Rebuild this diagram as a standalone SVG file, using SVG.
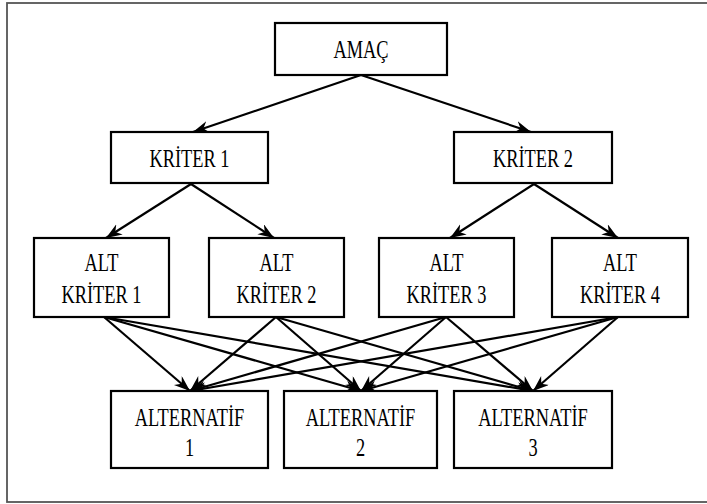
<svg xmlns="http://www.w3.org/2000/svg" width="707" height="504" viewBox="0 0 707 504">
<style>
.box{fill:#fff;stroke:#000;stroke-width:2.2}
.c line{stroke:#000;stroke-width:2.2;marker-end:url(#ah)}
</style>
<defs>
<marker id="ah" markerUnits="userSpaceOnUse" markerWidth="18" markerHeight="14" refX="16" refY="6" orient="auto">
<path d="M0,0 L16,6 L0,12 L5,6 Z" fill="#000"/>
</marker>
</defs>
<rect x="0" y="0" width="707" height="504" fill="#fff"/>
<rect x="7" y="3" width="710" height="499" fill="none" stroke="#555" stroke-width="1.8"/>
<g class="c" id="connectors">
<line x1="361" y1="75" x2="193" y2="132"/>
<line x1="361" y1="75" x2="531" y2="132"/>
<line x1="191" y1="184" x2="106" y2="238"/>
<line x1="191" y1="184" x2="274" y2="238"/>
<line x1="534" y1="184" x2="450" y2="238"/>
<line x1="534" y1="184" x2="618" y2="238"/>
<line x1="104" y1="317" x2="190" y2="391"/>
<line x1="104" y1="317" x2="361" y2="391"/>
<line x1="104" y1="317" x2="533" y2="391"/>
<line x1="276" y1="317" x2="190" y2="391"/>
<line x1="276" y1="317" x2="361" y2="391"/>
<line x1="276" y1="317" x2="533" y2="391"/>
<line x1="446" y1="317" x2="190" y2="391"/>
<line x1="446" y1="317" x2="361" y2="391"/>
<line x1="446" y1="317" x2="533" y2="391"/>
<line x1="618" y1="317" x2="190" y2="391"/>
<line x1="618" y1="317" x2="361" y2="391"/>
<line x1="618" y1="317" x2="533" y2="391"/>
</g>
<g font-family="Liberation Serif, Times New Roman, serif" font-size="25.5" fill="#000" text-anchor="middle">
<g id="amac">
<rect class="box" x="275" y="23" width="172" height="52"/>
<text transform="translate(361,58) scale(0.72,1)">AMAÇ</text>
</g>
<g id="kriter1">
<rect class="box" x="111" y="132" width="157" height="51"/>
<text transform="translate(189.5,167) scale(0.72,1)">KRİTER 1</text>
</g>
<g id="kriter2">
<rect class="box" x="454" y="132" width="158" height="51"/>
<text transform="translate(533,167) scale(0.72,1)">KRİTER 2</text>
</g>
<g id="altkriter1">
<rect class="box" x="34" y="238" width="135" height="79"/>
<text transform="translate(101.5,271) scale(0.72,1)">ALT</text>
<text transform="translate(101.5,303) scale(0.72,1)">KRİTER 1</text>
</g>
<g id="altkriter2">
<rect class="box" x="209" y="238" width="135" height="79"/>
<text transform="translate(276.5,271) scale(0.72,1)">ALT</text>
<text transform="translate(276.5,303) scale(0.72,1)">KRİTER 2</text>
</g>
<g id="altkriter3">
<rect class="box" x="379" y="238" width="135" height="79"/>
<text transform="translate(446.5,271) scale(0.72,1)">ALT</text>
<text transform="translate(446.5,303) scale(0.72,1)">KRİTER 3</text>
</g>
<g id="altkriter4">
<rect class="box" x="552" y="238" width="136" height="79"/>
<text transform="translate(620,271) scale(0.72,1)">ALT</text>
<text transform="translate(620,303) scale(0.72,1)">KRİTER 4</text>
</g>
<g id="alternatif1">
<rect class="box" x="111" y="391" width="157" height="77"/>
<text transform="translate(189.5,426) scale(0.72,1)">ALTERNATİF</text>
<text transform="translate(189.5,456) scale(0.72,1)">1</text>
</g>
<g id="alternatif2">
<rect class="box" x="284" y="391" width="153" height="77"/>
<text transform="translate(360.5,426) scale(0.72,1)">ALTERNATİF</text>
<text transform="translate(360.5,456) scale(0.72,1)">2</text>
</g>
<g id="alternatif3">
<rect class="box" x="454" y="391" width="158" height="77"/>
<text transform="translate(533,426) scale(0.72,1)">ALTERNATİF</text>
<text transform="translate(533,456) scale(0.72,1)">3</text>
</g>
</g>
</svg>
